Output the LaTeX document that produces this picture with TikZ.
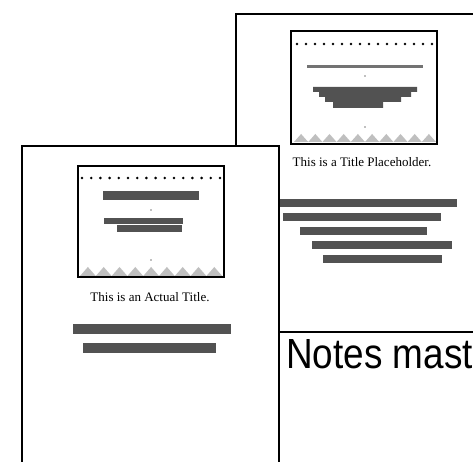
\documentclass[tikz,border=0pt]{standalone}
\usepackage{fontspec}
\setmainfont{Liberation Serif}
\newfontfamily\notesfont[FakeStretch=0.875]{Liberation Sans}
\begin{document}
\begin{tikzpicture}[x=0.02cm,y=-0.02cm]
\tikzstyle{page}=[draw,line width=1pt,fill=white]
\tikzstyle{slide}=[draw,line width=1.6pt]
\tikzstyle{bar}=[fill=black!68]
\tikzstyle{tri}=[fill=black!25]
\tikzstyle{caption}=[font=\fontsize{7.4}{8}\selectfont,inner sep=0pt]
\useasboundingbox (0,0) rectangle (473,462);
\clip (0,0) rectangle (473,462);
\fill[white] (0,0) rectangle (473,462);

% back page (title placeholder)
\path[page] (236,14) rectangle (480,332);
\draw[slide] (291,31) rectangle (437,144);
\foreach \i in {0,...,15} \fill (297+\i*9,44) circle (0.8pt);
\fill[black!55] (307,65) rectangle (423,68.5);
\fill[black!50] (365,76) circle (0.5pt);
\fill[bar] (313,87) -- (417,87) -- (417,92) -- (411,92) -- (411,97) -- (401,97)
  -- (401,102) -- (383,102) -- (383,108) -- (333,108) -- (333,102) -- (325,102)
  -- (325,97) -- (319,97) -- (319,92) -- (313,92) -- cycle;
\fill[black!50] (365,127) circle (0.5pt);
\foreach \i in {0,...,9} \fill[tri] (294+\i*14.2,142) -- ++(7.1,-8) -- ++(7.1,8) -- cycle;
\node[caption](backcap) at (362,162) {This is a Title Placeholder.};
\fill[bar] (280,199) rectangle (457,207);
\fill[bar] (283,213) rectangle (441,221);
\fill[bar] (300,227) rectangle (427,235);
\fill[bar] (312,241) rectangle (452,249);
\fill[bar] (323,255) rectangle (442,263);

% notes master page
\node[anchor=base west,inner sep=0pt,font=\notesfont\fontsize{24}{26}\selectfont](notes) at (286,368) {Notes mast};

% front page (actual title)
\path[page] (22,146) rectangle (279,480);
\draw[slide] (78,166) rectangle (224,277);
\foreach \i in {0,...,15} \fill (82+\i*9.2,178) circle (0.8pt);
\fill[bar] (103,191) rectangle (199,200);
\fill[black!50] (151,210) circle (0.5pt);
\fill[bar] (104,218) rectangle (183,224);
\fill[bar] (117,225) rectangle (182,232);
\fill[black!50] (151,260) circle (0.5pt);
\foreach \i in {0,...,8} \fill[tri] (80+\i*15.8,276) -- ++(7.9,-9) -- ++(7.9,9) -- cycle;
\draw[slide] (78,166) rectangle (224,277);
\node[caption](frontcap) at (150,297) {This is an Actual Title.};
\fill[bar] (73,324) rectangle (231,334);
\fill[bar] (83,343) rectangle (216,353);
\end{tikzpicture}
\end{document}
